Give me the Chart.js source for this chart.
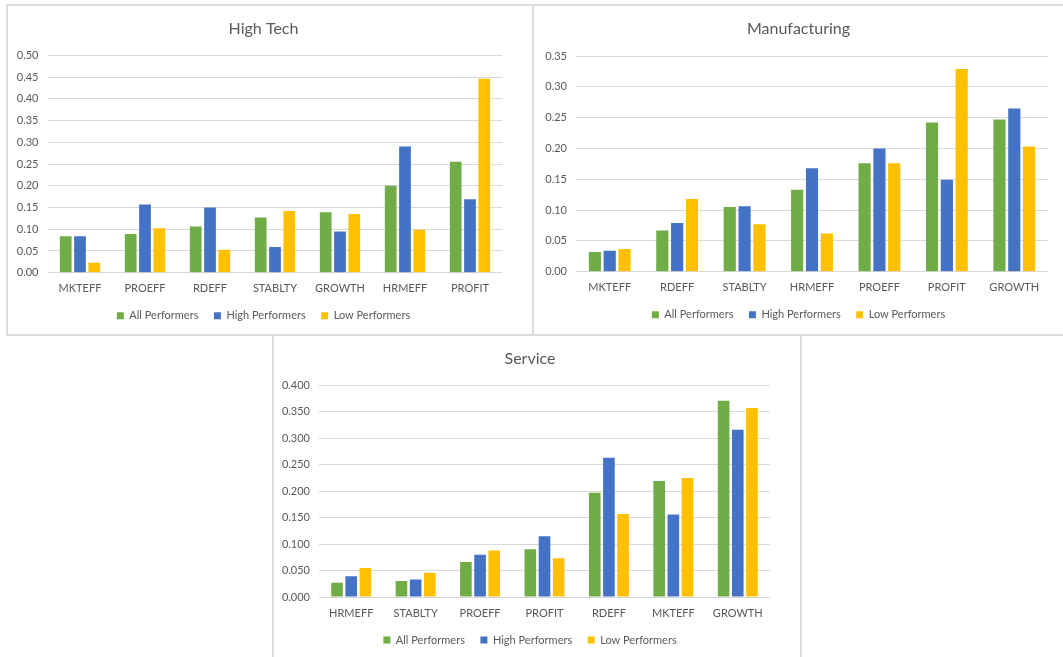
<!DOCTYPE html>
<html>
  <head>
    <meta charset="UTF-8" />
    <title>Performer Groups by Industry</title>
    <style>
      body {
        margin: 0;
        background: #fff;
        width: 1063px;
        height: 657px;
        overflow: hidden;
        position: relative;
        font-family: Lato, "Open Sans", sans-serif;
      }

      .panel {
        position: absolute;
        border: 2px solid #dcdcdc;
        background: #fff;
      }

      .panel canvas {
        display: block;
      }

      #htPanel { left: 6px; top: 4px; width: 524px; height: 328px; }
      #mfPanel { left: 532px; top: 4px; width: 529px; height: 328px; }
      #svPanel { left: 272px; top: 334px; width: 526px; height: 330px; }
    </style>
  </head>

  <body>
    <div class="panel" id="htPanel"><canvas id="htChart" width="524" height="328"></canvas></div>
    <div class="panel" id="mfPanel"><canvas id="mfChart" width="529" height="328"></canvas></div>
    <div class="panel" id="svPanel"><canvas id="svChart" width="526" height="321"></canvas></div>

    <script src="https://cdn.jsdelivr.net/npm/chart.js"></script>

    <script>
      // High Tech
      const htLabels = ["MKTEFF", "PROEFF", "RDEFF", "STABLTY", "GROWTH", "HRMEFF", "PROFIT"];
      const htAll = [0.084, 0.089, 0.106, 0.127, 0.139, 0.200, 0.255];
      const htHigh = [0.084, 0.157, 0.150, 0.059, 0.095, 0.290, 0.169];
      const htLow = [0.023, 0.102, 0.053, 0.142, 0.135, 0.099, 0.446];
      const htTicks = ["0.00", "0.05", "0.10", "0.15", "0.20", "0.25", "0.30", "0.35", "0.40", "0.45", "0.50"];

      // Manufacturing
      const mfLabels = ["MKTEFF", "RDEFF", "STABLTY", "HRMEFF", "PROEFF", "PROFIT", "GROWTH"];
      const mfAll = [0.032, 0.067, 0.105, 0.133, 0.176, 0.242, 0.247];
      const mfHigh = [0.034, 0.079, 0.106, 0.168, 0.200, 0.149, 0.265];
      const mfLow = [0.037, 0.118, 0.077, 0.062, 0.176, 0.329, 0.203];
      const mfTicks = ["0.00", "0.05", "0.10", "0.15", "0.20", "0.25", "0.30", "0.35"];

      // Service
      const svLabels = ["HRMEFF", "STABLTY", "PROEFF", "PROFIT", "RDEFF", "MKTEFF", "GROWTH"];
      const svAll = [0.027, 0.030, 0.066, 0.090, 0.197, 0.219, 0.371];
      const svHigh = [0.039, 0.033, 0.080, 0.115, 0.263, 0.156, 0.316];
      const svLow = [0.055, 0.046, 0.088, 0.073, 0.157, 0.225, 0.357];
      const svTicks = ["0.000", "0.050", "0.100", "0.150", "0.200", "0.250", "0.300", "0.350", "0.400"];

      const seriesNames = ["All Performers", "High Performers", "Low Performers"];
      const seriesColors = ["#70ad47", "#4472c4", "#ffc000"];
      const textColor = "#595959";

      Chart.defaults.font.family = "Lato, 'Open Sans', sans-serif";
      Chart.defaults.color = textColor;

      function drawPanel(id, title, labels, all, high, low, ticks, geo) {
        const step = Number(ticks[1]) - Number(ticks[0]);
        new Chart(document.getElementById(id), {
          type: "bar",
          data: {
            labels: labels,
            datasets: [all, high, low].map((d, i) => ({
              label: seriesNames[i],
              data: d,
              backgroundColor: seriesColors[i],
              categoryPercentage: 0.66,
              barPercentage: 0.82,
            })),
          },
          options: {
            responsive: false,
            animation: false,
            layout: {
              padding: { left: 0, right: geo.padR, top: 0, bottom: geo.padB },
            },
            plugins: {
              title: {
                display: true,
                text: title,
                color: textColor,
                font: { size: 16, weight: "normal" },
                padding: { top: geo.titleTop, bottom: geo.titleBottom },
              },
              legend: {
                position: "bottom",
                labels: {
                  boxWidth: 7,
                  boxHeight: 7,
                  padding: 15.5,
                  color: textColor,
                  font: { size: 11 },
                },
              },
              tooltip: { enabled: false },
            },
            scales: {
              x: {
                grid: { display: false, drawTicks: false },
                border: { display: false },
                ticks: { padding: 10.5, color: textColor, font: { size: 11, lineHeight: 1 } },
                afterFit: (s) => { s.height = 22; },
              },
              y: {
                min: 0,
                max: Number(ticks[ticks.length - 1]),
                grid: { color: "#d9d9d9", drawTicks: false },
                border: { display: false },
                ticks: {
                  stepSize: step,
                  padding: 9,
                  color: textColor,
                  font: { size: 11 },
                  callback: (v, i) => ticks[i],
                },
                afterFit: (s) => { s.width = geo.yW; },
              },
              // empty right axis, only keeps the plot narrower than the legend/title band
              yRight: {
                position: "right",
                grid: { display: false, drawTicks: false },
                border: { display: false },
                ticks: { display: false },
                afterFit: (s) => { s.width = geo.rW; },
              },
            },
          },
        });
      }

      drawPanel("htChart", "High Tech", htLabels, htAll, htHigh, htLow, htTicks,
        { yW: 39.5, rW: 16.5, padR: 13, padB: 2.8, titleTop: 13, titleBottom: 17.1 });
      drawPanel("mfChart", "Manufacturing", mfLabels, mfAll, mfHigh, mfLow, mfTicks,
        { yW: 42, rW: 15, padR: 0, padB: 3.8, titleTop: 13, titleBottom: 17.8 });
      drawPanel("svChart", "Service", svLabels, svAll, svHigh, svLow, svTicks,
        { yW: 45, rW: 16, padR: 14, padB: 1.5, titleTop: 13.5, titleBottom: 16.6 });
    </script>
  </body>
</html>
